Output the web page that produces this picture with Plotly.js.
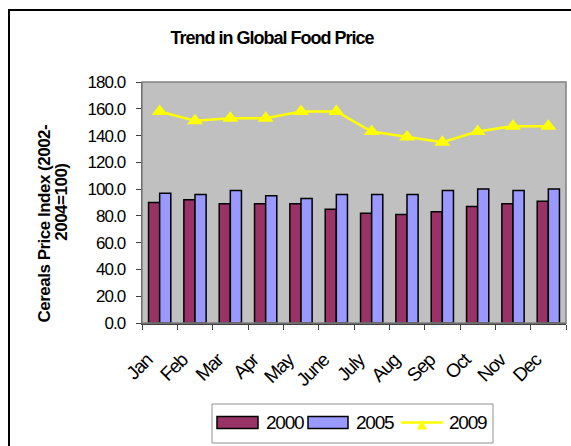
<!DOCTYPE html>
<html>
<head>
<meta charset="utf-8">
<script src="https://cdn.plot.ly/plotly-3.0.1.min.js"></script>
<style>
  html, body { margin: 0; padding: 0; background: #ffffff; }
  #chart { width: 571px; height: 446px; }
  /* tight, condensed lettering */
  #chart .gtitle { letter-spacing: -1px; }
  #chart .xtick text { letter-spacing: -1.2px; }
  #chart .ytick text { letter-spacing: -1px; }
  #chart .annotation-text { letter-spacing: -0.5px; }
</style>
</head>
<body>
<div id="chart"></div>
<script>
// Monthly cereals price index (2002-2004 = 100)
const months = ['Jan', 'Feb', 'Mar', 'Apr', 'May', 'June', 'July', 'Aug', 'Sep', 'Oct', 'Nov', 'Dec'];
const seriesNames = ['2000', '2005', '2009'];
const values2000 = [90, 92, 89, 89, 89, 85, 82, 81, 83, 87, 89, 91];
const values2005 = [97, 96, 99, 95, 93, 96, 96, 96, 99, 100, 99, 100];
const values2009 = [158, 151, 153, 153, 158, 158, 143, 139, 135, 143, 147, 147];
const yTicks = [0, 20, 40, 60, 80, 100, 120, 140, 160, 180];

const W = 571, H = 446;
const plotL = 142, plotR = 566, plotT = 82, plotB = 323;
const FONT = "'Liberation Sans', Arial, sans-serif";
const colors = ['#993366', '#9999FF', '#FFFF00'];

// pixel -> paper coordinate helpers (paper is the plot area)
const px = x => (x - plotL) / (plotR - plotL);
const py = y => (plotB - y) / (plotB - plotT);

const traces = [
  {
    type: 'bar', name: seriesNames[0], x: months, y: values2000,
    marker: { color: colors[0], line: { color: '#000000', width: 1.5 } },
    showlegend: false
  },
  {
    type: 'bar', name: seriesNames[1], x: months, y: values2005,
    marker: { color: colors[1], line: { color: '#000000', width: 1.5 } },
    showlegend: false
  },
  {
    type: 'scatter', mode: 'lines+markers', name: seriesNames[2], x: months, y: values2009,
    line: { color: colors[2], width: 2.5 },
    marker: { symbol: 'triangle-up', size: 14, color: colors[2] },
    showlegend: false
  }
];

// legend drawn as a boxed row under the axis
const legY = 422.5;
const shapes = [
  // outer chart frame
  { type: 'rect', xref: 'paper', yref: 'paper', x0: px(9), x1: px(600), y0: py(480), y1: py(10),
    line: { color: '#000000', width: 2 }, fillcolor: 'rgba(0,0,0,0)' },
  // plot area outline
  { type: 'rect', xref: 'paper', yref: 'paper', x0: 0, x1: 1, y0: 0, y1: 1,
    line: { color: '#808080', width: 1.5 }, fillcolor: 'rgba(0,0,0,0)' },
  // legend box
  { type: 'rect', xref: 'paper', yref: 'paper', x0: px(212), x1: px(493), y0: py(443), y1: py(404),
    line: { color: '#909090', width: 1 }, fillcolor: '#ffffff' },
  { type: 'rect', xref: 'paper', yref: 'paper', x0: px(217), x1: px(258), y0: py(428.5), y1: py(416.5),
    line: { color: '#000000', width: 1.5 }, fillcolor: colors[0] },
  { type: 'rect', xref: 'paper', yref: 'paper', x0: px(308), x1: px(348), y0: py(428.5), y1: py(416.5),
    line: { color: '#000000', width: 1.5 }, fillcolor: colors[1] },
  { type: 'line', xref: 'paper', yref: 'paper', x0: px(401), x1: px(443), y0: py(legY), y1: py(legY),
    line: { color: colors[2], width: 2.5 } }
];

const legendFont = { family: FONT, size: 19, color: '#000000' };
const axisTitleFont = { family: FONT, size: 17, color: '#000000', weight: 'bold' };
const tight = s => '<span style="letter-spacing:-1.2px">' + s + '</span>';
const annotations = [
  { xref: 'paper', yref: 'paper', x: px(44), y: py(224), text: 'Cereals Price Index (2002-',
    textangle: -90, showarrow: false, xanchor: 'center', yanchor: 'middle', font: axisTitleFont },
  { xref: 'paper', yref: 'paper', x: px(61), y: py(202), text: '2004=100)',
    textangle: -90, showarrow: false, xanchor: 'center', yanchor: 'middle', font: axisTitleFont },
  { xref: 'paper', yref: 'paper', x: px(264), y: py(legY), text: tight(seriesNames[0]),
    showarrow: false, xanchor: 'left', yanchor: 'middle', font: legendFont },
  { xref: 'paper', yref: 'paper', x: px(354), y: py(legY), text: tight(seriesNames[1]),
    showarrow: false, xanchor: 'left', yanchor: 'middle', font: legendFont },
  { xref: 'paper', yref: 'paper', x: px(447), y: py(legY), text: tight(seriesNames[2]),
    showarrow: false, xanchor: 'left', yanchor: 'middle', font: legendFont },
  // triangle symbol on the legend line
  { xref: 'paper', yref: 'paper', x: px(422), y: py(legY + 1), text: '\u25B2', showarrow: false,
    xanchor: 'center', yanchor: 'middle', font: { family: 'DejaVu Sans', size: 13, color: colors[2] } }
];

const layout = {
  width: W, height: H, autosize: false,
  margin: { l: plotL, r: W - plotR, t: plotT, b: H - plotB, pad: 0 },
  paper_bgcolor: '#ffffff',
  plot_bgcolor: '#C0C0C0',
  font: { family: FONT, size: 17, color: '#000000' },
  title: {
    text: 'Trend in Global Food Price',
    font: { family: FONT, size: 18, color: '#000000', weight: 'bold' },
    x: 272 / W, xref: 'container', xanchor: 'center',
    y: 1 - 38 / H, yref: 'container', yanchor: 'middle'
  },
  barmode: 'group', bargap: 0.37, bargroupgap: 0,
  showlegend: false,
  xaxis: {
    type: 'category', range: [-0.5, 11.5], tickangle: -45, ticks: 'outside', tickson: 'boundaries', ticklen: 5,
    tickcolor: '#404040', showline: true, linecolor: '#404040', linewidth: 1.5,
    showgrid: false, zeroline: false, fixedrange: true,
    ticklabelshift: -13, ticklabelstandoff: 17,
    tickfont: { family: FONT, size: 19, color: '#000000' }
  },
  yaxis: {
    range: [0, 180], tickvals: yTicks, tickformat: '.1f', ticks: 'outside', ticklen: 5,
    tickcolor: '#404040', showline: true, linecolor: '#404040', linewidth: 1.5,
    showgrid: false, zeroline: false, fixedrange: true, ticklabelstandoff: 7,
    tickfont: { family: FONT, size: 17, color: '#000000' }
  },
  shapes: shapes,
  annotations: annotations
};

Plotly.newPlot('chart', traces, layout, { displayModeBar: false, staticPlot: true });
</script>
</body>
</html>
